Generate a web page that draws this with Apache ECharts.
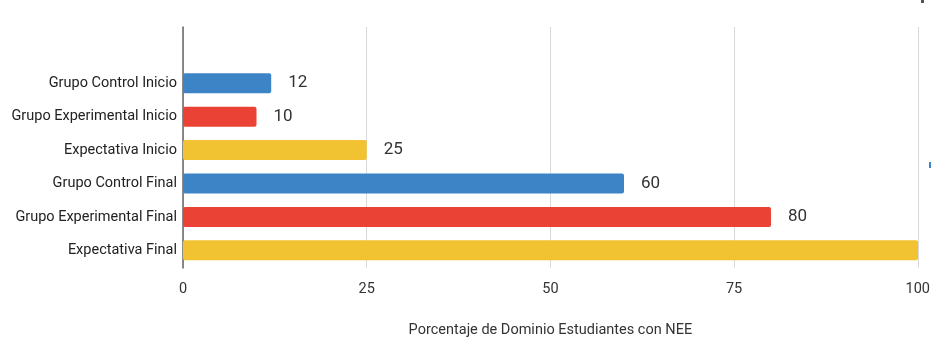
<!DOCTYPE html>
<html><head><meta charset="utf-8">
<script src="https://cdn.jsdelivr.net/npm/echarts@6/dist/echarts.min.js"></script>
<style>html,body{margin:0;padding:0;background:#fff}#c{width:933px;height:343px}</style>
</head><body><div id="c"></div>
<script>
const categories = ["Grupo Control Inicio","Grupo Experimental Inicio","Expectativa Inicio","Grupo Control Final","Grupo Experimental Final","Expectativa Final"];
const values = [12, 10, 25, 60, 80, 100];
const barColors = ["#3d84c6","#ea4335","#f1c232","#3d84c6","#ea4335","#f1c232"];
const showLabel = [true, true, true, true, true, false];
const xTicks = {min: 0, max: 100, interval: 25};
const axisTitle = "Porcentaje de Dominio Estudiantes con NEE";

const font = "Roboto, Arial, sans-serif";
const chart = echarts.init(document.getElementById('c'), null, {renderer: 'canvas'});
chart.setOption({
  animation: false,
  grid: [
    {left: 183, right: 15, top: 27, height: 245},
    {left: 183, right: 15, top: 66.5, height: 200.5}
  ],
  xAxis: [
    {gridIndex: 0, type: 'value', min: xTicks.min, max: xTicks.max, interval: xTicks.interval,
     axisLine: {show: false}, axisTick: {show: false},
     splitLine: {show: true, lineStyle: {color: '#d9d9d9', width: 1}},
     axisLabel: {color: '#333', fontSize: 14.5, fontFamily: font, margin: 14},
     name: axisTitle, nameLocation: 'middle', nameGap: 55,
     nameTextStyle: {color: '#333', fontSize: 14.5, fontFamily: font}},
    {gridIndex: 1, type: 'value', min: xTicks.min, max: xTicks.max, show: false}
  ],
  yAxis: [
    {gridIndex: 0, type: 'value', axisLine: {show: true, lineStyle: {color: '#666', width: 1.5}},
     axisLabel: {show: false}, axisTick: {show: false}, splitLine: {show: false}},
    {gridIndex: 1, type: 'category', inverse: true, data: categories,
     axisLine: {show: false}, axisTick: {show: false},
     axisLabel: {color: '#222', fontSize: 14.5, fontFamily: font, margin: 6}}
  ],
  series: [{
    type: 'bar', xAxisIndex: 1, yAxisIndex: 1, barWidth: 20,
    data: values.map((v, i) => ({value: v, itemStyle: {color: barColors[i], borderRadius: 2},
      label: {show: showLabel[i]}})),
    label: {position: 'right', distance: 17, color: '#333', fontSize: 17, fontFamily: font}
  }],
  graphic: [
    {type: 'rect', shape: {x: 929, y: 162, width: 2, height: 6}, style: {fill: '#3d84c6'}},
    {type: 'rect', shape: {x: 921, y: 0, width: 3, height: 3}, style: {fill: '#555'}}
  ]
});
</script></body></html>
